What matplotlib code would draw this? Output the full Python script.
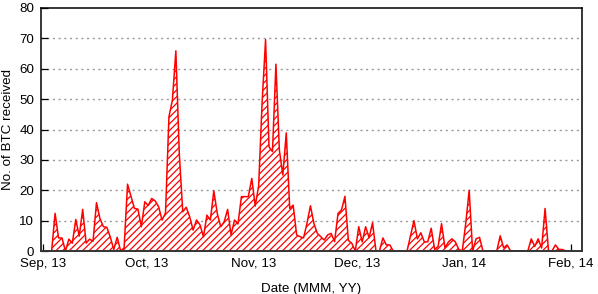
import numpy as np
import pandas as pd
import matplotlib
matplotlib.use("Agg")
import matplotlib.pyplot as plt
import matplotlib.dates as mdates

start_date = "2013-09-01"
btc_received = [
    0, 0, 0, 12.4, 4.3, 4.3, 0, 3.9, 2.6, 10.4,
    4.9, 13.7, 2.6, 3.9, 3.2, 15.9, 10.7, 8, 7.8, 4.6,
    0.5, 4.5, 0, 1, 22, 18, 14, 13.8, 8, 16.2,
    15, 17.3, 16.5, 14.6, 10.2, 12.5, 44.2, 49.7, 65.9, 32,
    12.9, 14.4, 11.3, 6.9, 10.2, 8.6, 4.7, 11.8, 10.2, 19.8,
    12.4, 8, 9.6, 13.7, 5.3, 10.2, 8.9, 17.9, 17.9, 17.9,
    23.9, 14.8, 21.5, 49, 69.6, 34.3, 32.7, 61.5, 33.2, 25,
    38.9, 14, 15.1, 5.3, 4.7, 4.3, 9.1, 14.9, 9.1, 5.8,
    4.7, 3.6, 5.3, 5.8, 3.1, 12.4, 13.5, 18, 3.5, 2.5,
    0, 8, 3, 8, 4.4, 9.3, 0, 0, 4.3, 2,
    2, 0, 0, 0, 0, 0, 5, 10, 4, 6,
    3, 3, 7.5, 0.5, 1.5, 9, 1, 3, 4, 3,
    0.5, 0, 9, 20, 0, 4, 4.5, 0, 0, 0,
    0, 0, 5, 1, 2, 0, 0, 0, 0, 0,
    0, 4, 1.5, 4, 1, 14, 0, 0, 2, 0.5,
    0.5, 0,
]
y_ticks = [0, 10, 20, 30, 40, 50, 60, 70, 80]
x_label = "Date (MMM, YY)"
y_label = "No. of BTC received"

dates = pd.date_range(start_date + " 12:00", periods=len(btc_received), freq="D")
x = mdates.date2num(dates.to_pydatetime())
y = np.array(btc_received, dtype=float)

plt.rcParams["font.family"] = ["Liberation Sans", "DejaVu Sans"]
plt.rcParams["hatch.linewidth"] = 0.9

fig = plt.figure(figsize=(5.98, 2.94), dpi=100)
ax = fig.add_axes([41 / 598, 1 - 251 / 294, (582 - 41) / 598, (251 - 8) / 294])

ax.fill_between(x, 0, y, facecolor="white", edgecolor="#ff0000", hatch="/////",
                linewidth=0, zorder=2)
ax.plot(x, y, color="#ff0000", linewidth=1.1, zorder=3)

t0 = mdates.date2num(pd.Timestamp(start_date).to_pydatetime())
ax.set_xlim(t0 - 0.58, t0 + 156.2)
ax.set_ylim(0, 80)
ax.set_yticks(y_ticks)

ax.xaxis.set_major_locator(mdates.MonthLocator())
ax.xaxis.set_major_formatter(mdates.DateFormatter("%b, %y"))
ax.xaxis.set_minor_locator(mdates.DayLocator(bymonthday=[11, 21]))

for yy in y_ticks[1:-1]:
    ax.axhline(yy, color="#999999", linewidth=1.0, linestyle=(0, (1.5, 2.6)), zorder=1)

fs = 9.6
ax.tick_params(axis="both", which="major", direction="in", length=5, width=0.9,
               labelsize=fs, colors="black")
ax.tick_params(axis="x", which="major", pad=5)
ax.tick_params(axis="y", which="major", pad=5)
ax.tick_params(axis="x", which="minor", direction="in", length=1.5, width=0.8)
ax.tick_params(top=False, right=False)

for s in ["top", "right", "left"]:
    ax.spines[s].set_linewidth(1.1)
    ax.spines[s].set_color("black")
ax.spines["bottom"].set_linewidth(1.4)
ax.spines["bottom"].set_color("#333333")
for s in ax.spines.values():
    s.set_zorder(4)

ax.set_xlabel(x_label, fontsize=fs, labelpad=9.5)
ax.set_ylabel(y_label, fontsize=fs, labelpad=3.5)

fig.savefig("out.png", dpi=100)
